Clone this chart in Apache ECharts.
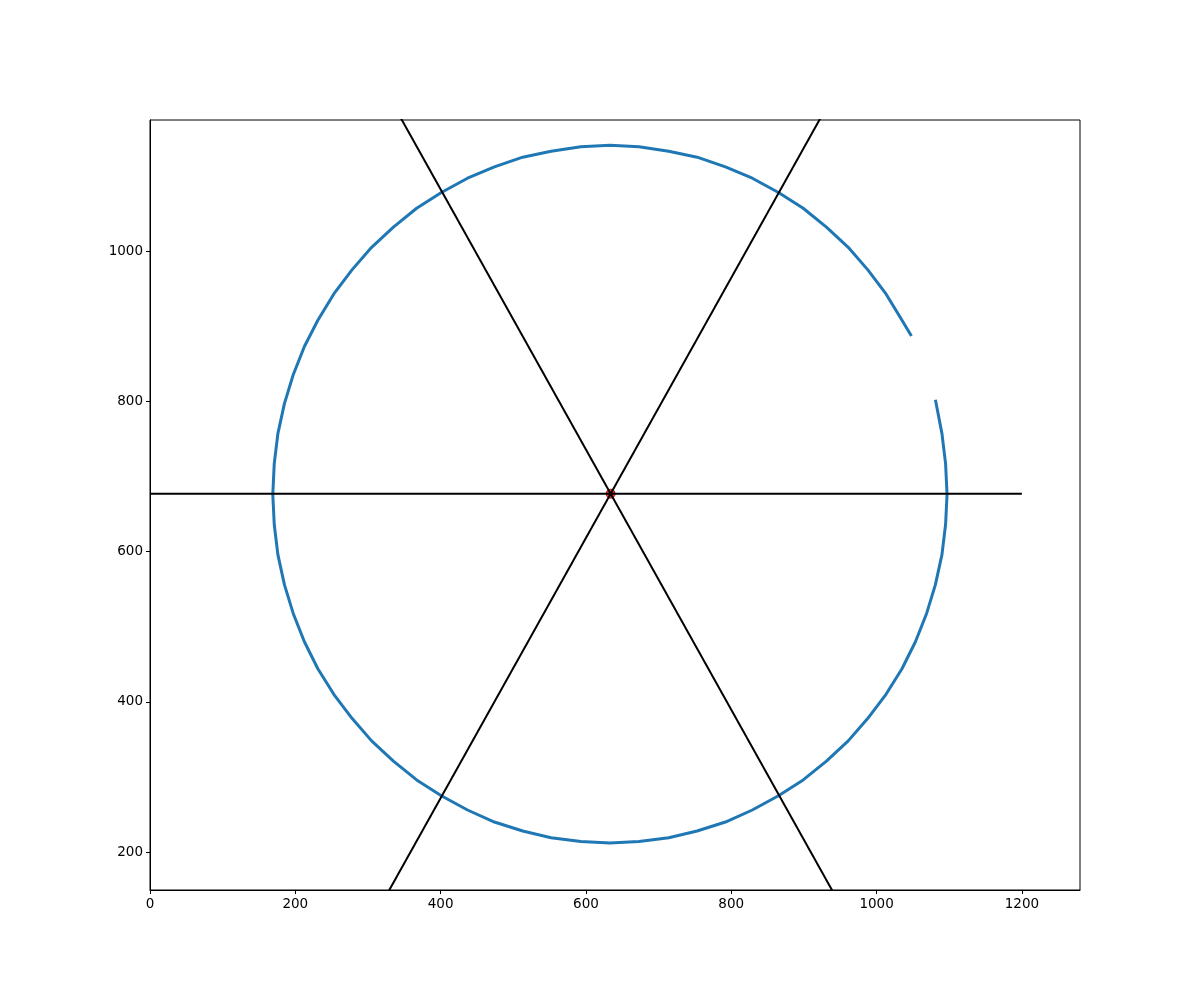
<!DOCTYPE html>
<html>
<head>
<meta charset="utf-8">
<script src="https://cdn.jsdelivr.net/npm/echarts@6/dist/echarts.min.js"></script>
<style>html,body{margin:0;padding:0;background:#fff}#c{width:1200px;height:1000px}</style>
</head>
<body>
<div id="c"></div>
<script>
// Traced contour points (x, y)
const circleX = [1048, 1035, 1013, 988, 961, 931, 899, 865, 829, 792, 753, 714, 673, 633, 593, 552, 513, 474, 437, 401, 367, 335, 305, 278, 253, 231, 212.5, 197, 185, 176, 171, 169, 171, 176, 185, 197, 212.5, 231, 253, 278, 305, 335, 367, 401, 437, 474, 513, 552, 593, 633, 673, 714, 753, 792, 829, 865, 899, 931, 961, 988, 1013, 1035, 1053.5, 1069, 1081, 1090, 1095, 1097, 1095, 1090, 1081];
const circleY = [887, 908, 943, 975, 1005, 1032, 1057, 1078, 1097, 1112, 1125, 1133, 1139, 1141, 1139, 1133, 1125, 1112, 1097, 1078, 1057, 1032, 1005, 975, 943, 908, 873, 835, 797, 757, 717, 676, 636, 596, 556, 518, 480, 444, 410, 378, 348, 321, 296, 275, 256, 240, 228, 219, 214, 212, 214, 219, 228, 240, 256, 275, 296, 321, 348, 378, 410, 444, 480, 518, 556, 596, 636, 676, 717, 757, 802];
// Centre point
const centerX = [634];
const centerY = [677];
// Reference lines through the centre: [x0, y0, x1, y1]
const lineH = [0, 677, 1200, 677];
const line60 = [34, -362, 1234, 1716];
const line120 = [34, 1716, 1234, -362];
// Axis ticks
const xTicks = [0, 200, 400, 600, 800, 1000, 1200];
const yTicks = [200, 400, 600, 800, 1000];
const xRange = [0, 1280];
const yRange = [149.5, 1174.5];

const circleData = circleX.map((x, i) => [x, circleY[i]]);
const seg = a => [[a[0], a[1]], [a[2], a[3]]];

const chart = echarts.init(document.getElementById('c'), null, {renderer: 'canvas'});
const axisCommon = {
  type: 'value',
  axisLine: {show: true, onZero: false, lineStyle: {color: '#000', width: 1}},
  axisTick: {show: true, length: 4, lineStyle: {color: '#000', width: 1}},
  axisLabel: {color: '#000', fontFamily: 'DejaVu Sans', fontSize: 13.5, margin: 7, formatter: v => String(v)},
  splitLine: {show: false}
};
chart.setOption({
  animation: false,
  backgroundColor: '#fff',
  grid: {left: 150, right: 120, top: 120, bottom: 110, show: true, borderColor: '#000', borderWidth: 1, containLabel: false},
  xAxis: Object.assign({}, axisCommon, {
    min: xRange[0], max: xRange[1],
    axisTick: Object.assign({}, axisCommon.axisTick, {customValues: xTicks}),
    axisLabel: Object.assign({}, axisCommon.axisLabel, {customValues: xTicks})
  }),
  yAxis: Object.assign({}, axisCommon, {
    min: yRange[0], max: yRange[1],
    axisTick: Object.assign({}, axisCommon.axisTick, {customValues: yTicks}),
    axisLabel: Object.assign({}, axisCommon.axisLabel, {customValues: yTicks})
  }),
  series: [
    {type: 'line', data: circleData, smooth: false, showSymbol: false, clip: true,
     lineStyle: {color: '#1f77b4', width: 3}, z: 2},
    {type: 'scatter', data: centerX.map((x, i) => [x, centerY[i]]), symbolSize: 9,
     itemStyle: {color: '#ff0000', borderColor: '#8b0000', borderWidth: 1}, z: 3},
    {type: 'line', data: seg(lineH), showSymbol: false, clip: true, lineStyle: {color: '#000', width: 2}, z: 4},
    {type: 'line', data: seg(line60), showSymbol: false, clip: true, lineStyle: {color: '#000', width: 2}, z: 4},
    {type: 'line', data: seg(line120), showSymbol: false, clip: true, lineStyle: {color: '#000', width: 2}, z: 4}
  ]
});
</script>
</body>
</html>
